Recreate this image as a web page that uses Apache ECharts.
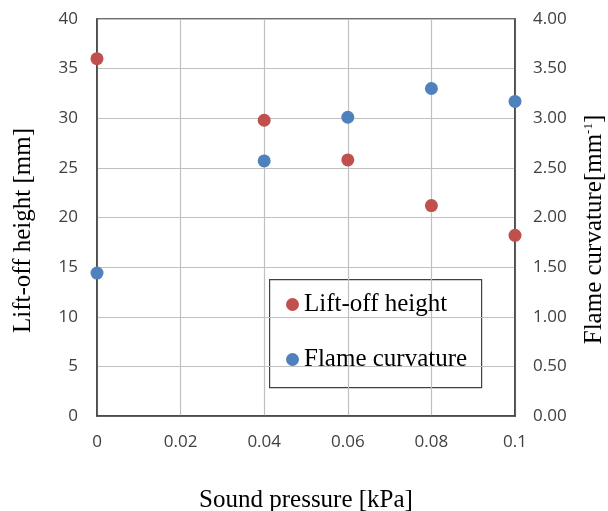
<!DOCTYPE html>
<html><head><meta charset="utf-8">
<script src="https://cdn.jsdelivr.net/npm/echarts@6/dist/echarts.min.js"></script>
<style>html,body{margin:0;padding:0;background:#fff}#c{width:608px;height:511px}</style>
</head><body><div id="c"></div>
<script>
var pressure = [0, 0.04, 0.06, 0.08, 0.1];
var liftOff = [36.0, 29.8, 25.8, 21.2, 18.2];
var curvature = [1.44, 2.57, 3.01, 3.30, 3.17];
var leftTicks = {min: 0, max: 40, interval: 5};
var rightTicks = {min: 0, max: 4, interval: 0.5};
var xTicks = {min: 0, max: 0.1, interval: 0.02};

var chart = echarts.init(document.getElementById('c'), null, {renderer: 'canvas'});
var tickFont = {fontFamily: 'Open Sans', fontSize: 17, color: '#404040'};
var titleFont = {fontFamily: 'Liberation Serif', fontSize: 25, color: '#000'};
chart.setOption({
  animation: false,
  grid: {left: 97, right: 93, top: 19, bottom: 95, show: true, borderColor: '#404040', borderWidth: 1.5, backgroundColor: 'transparent', containLabel: false, outerBoundsMode: 'none'},
  xAxis: {
    type: 'value', min: xTicks.min, max: xTicks.max, interval: xTicks.interval,
    name: 'Sound pressure [kPa]', nameLocation: 'middle', nameGap: 72, nameTextStyle: titleFont,
    axisLine: {show: true, onZero: false, lineStyle: {color: '#404040', width: 1.5}},
    axisTick: {show: false},
    axisLabel: Object.assign({margin: 18, formatter: function(v){return String(parseFloat(v.toFixed(2)));}}, tickFont),
    splitLine: {show: true, lineStyle: {color: '#c0c0c0', width: 1.2}}
  },
  yAxis: [{
    type: 'value', min: leftTicks.min, max: leftTicks.max, interval: leftTicks.interval, position: 'left',
    name: 'Lift-off height [mm]', nameLocation: 'middle', nameGap: 61, nameRotate: 90,
    nameTextStyle: Object.assign({padding: [0, 26, 0, 0]}, titleFont),
    axisLine: {show: true, lineStyle: {color: '#404040', width: 1.5}},
    axisTick: {show: false},
    axisLabel: Object.assign({margin: 19}, tickFont),
    splitLine: {show: true, lineStyle: {color: '#c0c0c0', width: 1.2}}
  }, {
    type: 'value', min: rightTicks.min, max: rightTicks.max, interval: rightTicks.interval, position: 'right',
    name: 'Flame curvature[mm{sup|-1}]', nameLocation: 'middle', nameGap: 67, nameRotate: 90,
    nameTextStyle: Object.assign({padding: [0, 24, 0, 0], rich: {sup: {fontFamily: 'Liberation Serif', fontSize: 13, color: '#000', verticalAlign: 'top', padding: [0,0,10,0]}}}, titleFont),
    axisLine: {show: true, lineStyle: {color: '#404040', width: 1.5}},
    axisTick: {show: false},
    axisLabel: Object.assign({margin: 18, formatter: function(v){return v.toFixed(2);}}, tickFont),
    splitLine: {show: false}
  }],
  legend: {
    orient: 'vertical', left: 270, top: 279, padding: [13, 10, 13, 16], itemGap: 30,
    itemWidth: 13, itemHeight: 13, icon: 'circle',
    textStyle: {fontFamily: 'Liberation Serif', fontSize: 25, color: '#000'},
    data: ['Lift-off height', 'Flame curvature']
  },
  graphic: [{type: 'rect', left: 269, top: 279, shape: {width: 212, height: 108}, style: {fill: '#fff', stroke: '#404040', lineWidth: 1.2}, z: 0}],
  series: [{
    name: 'Lift-off height', type: 'scatter', yAxisIndex: 0, symbolSize: 13,
    itemStyle: {color: '#C0504D', opacity: 1},
    data: pressure.map(function(p, i){return [p, liftOff[i]];}), z: 3
  }, {
    name: 'Flame curvature', type: 'scatter', yAxisIndex: 1, symbolSize: 13,
    itemStyle: {color: '#4F81BD', opacity: 1},
    data: pressure.map(function(p, i){return [p, curvature[i]];}), z: 3
  }]
});
</script></body></html>
